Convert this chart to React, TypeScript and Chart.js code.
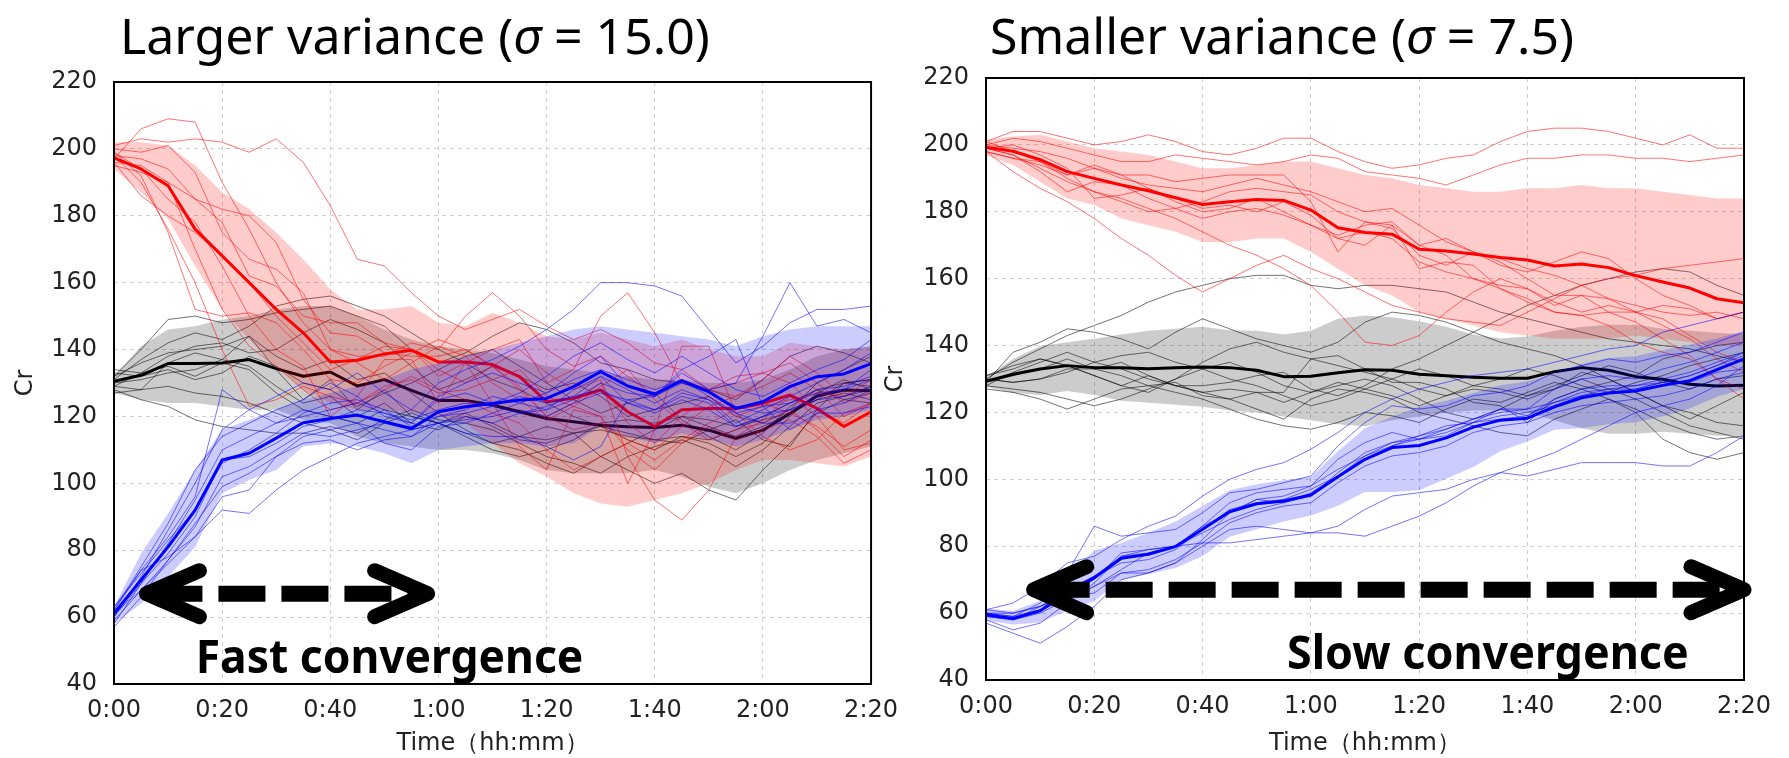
import React, { useEffect, useRef } from "react";
import { Chart, registerables } from "chart.js";

Chart.register(...registerables);
Chart.defaults.font.family = '"DejaVu Sans"';

const TIMES = [0, 5, 10, 15, 20, 25, 30, 35, 40, 45, 50, 55, 60, 65, 70, 75, 80, 85, 90, 95, 100, 105, 110, 115, 120, 125, 130, 135, 140];
const X_TICK_LABELS = ["0:00", "0:20", "0:40", "1:00", "1:20", "1:40", "2:00", "2:20"];

const L_TITLE_PARTS = ["Larger variance (", "σ", " = 15.0)"];
const R_TITLE_PARTS = ["Smaller variance (", "σ", " = 7.5)"];
const L_NOTE_TEXT = "Fast convergence";
const R_NOTE_TEXT = "Slow convergence";

// ---------- Left panel (sigma = 15.0) ----------
const L_RED_MEAN = [197.3, 194, 189, 176, 168, 160, 152, 145, 136.3, 136.8, 138.7, 139.8, 136.3, 136.3, 135.5, 131.9, 124.4, 125.4, 127.9, 121.4, 117, 122, 122.4, 122.4, 123.9, 126.4, 122.4, 117, 121.4];
const L_RED_UP = [202, 202, 201, 195, 187, 182, 175, 167, 158, 152, 152, 153, 148, 147, 151, 148, 144, 143, 145, 143, 141, 143, 140, 138, 138, 142, 141, 140, 141];
const L_RED_LO = [194, 187, 179, 165, 152, 143, 135, 128, 124, 122, 122, 121, 120, 118, 112, 106, 102, 97, 94, 93, 95, 97, 100, 104, 107, 107, 106, 105, 108];
const L_RED_RUNS = [
  [201, 203, 202, 203, 202, 199, 203, 196, 183, 167, 165, 157, 150, 146, 149, 152, 147, 143, 146, 142, 136, 134, 128, 126, 131, 138, 133, 126, 131],
  [197, 206, 209, 208, 190, 176, 160, 148, 140, 136, 131, 136, 141, 138, 130, 125, 119, 123, 129, 134, 125, 118, 113, 116, 118, 122, 116, 108, 113],
  [199, 192, 175, 152, 150, 151, 148, 140, 131, 130, 135, 139, 143, 140, 135, 129, 120, 116, 118, 113, 110, 117, 123, 126, 129, 133, 128, 120, 124],
  [198, 190, 176, 160, 140, 123, 125, 129, 126, 124, 128, 132, 128, 125, 121, 118, 110, 104, 108, 112, 107, 113, 118, 122, 124, 121, 117, 111, 116],
  [196, 195, 190, 185, 178, 162, 159, 150, 148, 148, 142, 140, 134, 130, 135, 140, 133, 128, 131, 108, 95, 89, 98, 114, 119, 126, 120, 110, 112],
  [200, 199, 201, 193, 175, 167, 164, 157, 140, 138, 138, 142, 140, 150, 157, 150, 140, 135, 138, 132, 126, 131, 128, 130, 133, 136, 130, 124, 127],
  [195, 193, 190, 170, 152, 141, 135, 128, 122, 124, 129, 131, 127, 128, 131, 134, 126, 123, 120, 110, 104, 112, 117, 113, 116, 119, 114, 106, 110],
  [198, 197, 194, 185, 182, 180, 172, 155, 145, 144, 139, 138, 138, 140, 135, 128, 120, 124, 130, 118, 112, 120, 126, 120, 123, 125, 127, 126, 129],
  [196, 186, 180, 175, 168, 160, 150, 142, 134, 137, 141, 140, 132, 136, 140, 143, 130, 134, 150, 157, 145, 130, 128, 132, 133, 130, 122, 118, 124],
  [199, 194, 185, 178, 165, 150, 140, 135, 120, 126, 137, 137, 124, 136, 124, 111, 104, 122, 120, 100, 116, 141, 141, 121, 114, 110, 113, 121, 124],
];

const L_BLK_MEAN = [130.5, 132.3, 135.8, 135.8, 136, 137, 134.3, 132, 133.3, 129.1, 131, 127.8, 124.8, 124.8, 123.4, 121.4, 119.4, 118.4, 117.4, 116.9, 116.7, 117.4, 115.9, 113.4, 115.9, 120.9, 126.1, 127.9, 127.7];
const L_BLK_UP = [132, 141, 146, 147, 149, 150, 152, 153, 153, 150, 146, 143, 141, 140, 139, 137, 135, 134, 133, 132, 131, 131, 130, 130, 131, 134, 138, 140, 141];
const L_BLK_LO = [127, 125, 124, 124, 123, 122, 122, 119, 118, 114, 112, 111, 110, 110, 109, 107, 104, 103, 103, 103, 104, 102, 99, 97, 100, 104, 107, 109, 111];
const L_BLK_RUNS = [
  [132, 140, 149, 150, 148, 149, 151, 152, 153, 150, 147, 140, 136, 139, 144, 148, 146, 142, 136, 134, 131, 130, 128, 125, 131, 138, 141, 139, 136],
  [131, 137, 142, 145, 143, 147, 153, 155, 156, 153, 150, 145, 140, 136, 131, 128, 124, 120, 117, 115, 113, 114, 112, 108, 112, 120, 127, 131, 128],
  [129, 133, 138, 141, 142, 139, 140, 145, 149, 146, 142, 135, 128, 131, 135, 132, 128, 130, 126, 120, 122, 124, 126, 120, 118, 122, 130, 134, 138],
  [133, 132, 134, 131, 133, 138, 135, 130, 128, 123, 127, 130, 134, 138, 140, 135, 130, 125, 121, 124, 127, 119, 114, 110, 115, 123, 128, 130, 129],
  [127, 128, 129, 127, 126, 124, 121, 118, 116, 113, 118, 121, 118, 115, 112, 114, 117, 115, 108, 104, 100, 103, 98, 95, 104, 112, 121, 125, 124],
  [128, 125, 123, 119, 117, 116, 115, 115, 117, 115, 119, 122, 119, 118, 116, 112, 108, 106, 103, 108, 111, 113, 110, 105, 110, 117, 124, 126, 128],
  [132, 136, 139, 140, 141, 144, 138, 134, 137, 131, 133, 127, 121, 116, 112, 110, 106, 103, 108, 112, 116, 120, 119, 117, 119, 121, 125, 130, 131],
  [130, 131, 133, 134, 137, 135, 129, 124, 126, 120, 124, 118, 116, 120, 118, 114, 113, 115, 117, 113, 110, 114, 113, 116, 120, 124, 128, 125, 127],
  [134, 133, 135, 132, 136, 134, 127, 122, 120, 118, 122, 120, 118, 114, 110, 108, 110, 113, 118, 119, 118, 120, 117, 114, 117, 121, 125, 127, 125],
  [129, 128, 136, 139, 137, 144, 134, 125, 131, 122, 128, 120, 118, 121, 117, 113, 112, 115, 116, 114, 113, 112, 116, 119, 113, 111, 122, 130, 131],
];

const L_BLU_MEAN = [61.1, 71.1, 81, 92, 107, 109, 113.5, 118.1, 119.4, 120.4, 118.4, 116.4, 121.4, 122.9, 123.9, 124.9, 125.4, 128.9, 133.4, 129.1, 126.7, 130.7, 127.4, 122.4, 124.4, 128.9, 131.9, 132.7, 135.8];
const L_BLU_UP = [63, 79, 91, 104, 116, 119, 122, 125, 127, 129, 131, 134, 136, 138, 140, 142, 144, 146, 147, 146, 145, 144, 143, 141, 144, 146, 147, 147, 147];
const L_BLU_LO = [58, 64, 72, 81, 97, 101, 104, 111, 112, 111, 109, 106, 110, 111, 112, 112, 111, 112, 117, 114, 112, 115, 113, 111, 113, 116, 119, 120, 122];
const L_BLU_RUNS = [
  [60, 72, 86, 100, 116, 122, 126, 130, 128, 133, 127, 122, 130, 134, 137, 141, 146, 152, 160, 160, 159, 156, 146, 136, 141, 148, 152, 152, 153],
  [62, 75, 88, 104, 114, 118, 122, 125, 130, 126, 120, 118, 126, 130, 133, 130, 127, 133, 138, 129, 126, 133, 128, 130, 144, 160, 147, 149, 145],
  [58, 70, 82, 95, 110, 114, 118, 120, 122, 124, 121, 118, 125, 127, 124, 127, 132, 138, 142, 137, 133, 138, 133, 128, 126, 130, 134, 137, 143],
  [63, 73, 83, 92, 106, 110, 115, 121, 124, 125, 122, 117, 120, 122, 126, 124, 122, 128, 132, 128, 124, 128, 125, 118, 122, 126, 130, 134, 139],
  [61, 68, 77, 88, 99, 103, 108, 114, 116, 118, 116, 114, 120, 121, 123, 126, 124, 126, 128, 124, 122, 126, 124, 117, 120, 124, 127, 128, 131],
  [60, 70, 79, 90, 107, 108, 112, 117, 119, 122, 121, 119, 122, 124, 123, 121, 122, 125, 130, 127, 126, 130, 127, 123, 121, 122, 126, 128, 134],
  [57, 66, 77, 87, 102, 105, 110, 115, 114, 116, 118, 116, 118, 119, 120, 122, 120, 124, 127, 125, 122, 127, 125, 121, 118, 118, 122, 124, 128],
  [63, 74, 84, 96, 128, 122, 118, 122, 120, 118, 112, 110, 117, 118, 121, 124, 127, 131, 134, 131, 128, 131, 126, 121, 123, 124, 128, 129, 132],
  [59, 68, 76, 84, 92, 91, 98, 104, 108, 112, 114, 116, 118, 120, 118, 121, 123, 126, 132, 124, 121, 125, 122, 117, 120, 122, 125, 126, 129],
  [62, 74, 78, 84, 96, 98, 108, 112, 113, 110, 113, 114, 118, 115, 114, 114, 111, 107, 111, 125, 126, 134, 138, 143, 123, 116, 121, 121, 123],
];

// ---------- Right panel (sigma = 7.5) ----------
const R_RED_MEAN = [199.3, 198.1, 195.6, 192, 190, 188, 186.3, 184.2, 182.2, 183, 183.7, 183.4, 180.5, 175.2, 173.8, 173.3, 168.8, 168.3, 167.4, 166.3, 165.6, 163.8, 164.4, 163.3, 160.9, 159, 157.2, 154, 152.8];
const R_RED_UP = [201.5, 202.5, 203, 201, 199, 198, 197, 195, 193, 193, 194, 195, 195, 193, 191, 190, 188, 187, 186, 186, 187, 187, 188, 187, 187, 186, 185, 184, 184];
const R_RED_LO = [197, 194, 189, 184, 182, 178, 176, 174, 171, 171, 172, 172, 168, 163, 158, 155, 150, 148, 146, 144, 143, 142, 142, 142, 143, 142, 141, 140, 140];
const R_RED_RUNS = [
  [201, 204, 204, 202, 200, 201, 203, 201, 198, 197, 199, 202, 202, 198, 195, 193, 194, 196, 197, 201, 204, 205, 205, 204, 202, 200, 203, 199, 199],
  [200, 202, 201, 199, 197, 195, 195, 197, 196, 195, 194, 195, 197, 196, 192, 191, 190, 188, 191, 194, 196, 196, 197, 197, 196, 196, 195, 196, 197],
  [199, 197, 193, 189, 186, 184, 181, 178, 174, 170, 167, 163, 158, 150, 141, 140, 143, 150, 156, 160, 157, 152, 155, 154, 152, 150, 149, 150, 148],
  [198, 192, 187, 183, 178, 172, 167, 161, 156, 160, 164, 167, 163, 160, 156, 152, 150, 148, 147, 146, 150, 154, 158, 160, 161, 163, 164, 165, 166],
  [200, 199, 198, 196, 193, 190, 188, 187, 186, 188, 190, 188, 186, 183, 180, 181, 176, 171, 168, 164, 162, 165, 168, 166, 160, 155, 152, 148, 150],
  [199, 200, 197, 193, 184, 185, 187, 184, 181, 182, 180, 183, 179, 172, 170, 176, 170, 167, 160, 157, 153, 150, 149, 146, 141, 138, 136, 130, 127],
  [198, 196, 194, 191, 193, 191, 187, 183, 180, 181, 184, 180, 176, 172, 174, 172, 165, 162, 160, 158, 157, 153, 150, 152, 150, 148, 143, 138, 135],
  [201, 198, 195, 190, 186, 183, 180, 181, 183, 186, 187, 186, 185, 180, 177, 175, 167, 164, 168, 165, 160, 155, 155, 150, 147, 142, 137, 130, 124],
  [199, 197, 192, 186, 189, 188, 184, 181, 178, 180, 181, 179, 176, 173, 176, 177, 170, 172, 168, 166, 163, 161, 158, 154, 150, 146, 142, 136, 132],
  [198, 196, 195, 191, 194, 191, 191, 189, 190, 191, 191, 191, 183, 168, 177, 176, 163, 165, 164, 157, 154, 150, 149, 150, 150, 152, 151, 148, 150],
];

const R_BLK_MEAN = [129.3, 131.4, 133, 134, 133.4, 133.4, 133.1, 133.4, 133.6, 133.4, 132.6, 130.7, 130.8, 131.9, 132.8, 132.6, 131.4, 131, 130.5, 130.2, 130.2, 132.2, 133.4, 132.6, 130.7, 129.9, 128.4, 127.9, 128.1];
const R_BLK_UP = [130.5, 136, 139.8, 141, 142, 143.3, 144.4, 145, 145.6, 144.6, 144.4, 143.3, 144.4, 148, 149, 148.5, 147.3, 145.6, 143.3, 142.1, 142.7, 144.4, 145.6, 146.2, 146.2, 145, 144.4, 143.8, 143.3];
const R_BLK_LO = [127.6, 125.8, 125.2, 126.4, 125.2, 123.5, 122.9, 122.3, 121.7, 120.6, 120, 118.8, 117.7, 116.5, 115.9, 117.7, 118.8, 120, 120.6, 120.6, 120, 117.7, 115.3, 113.6, 113.6, 114.2, 113.6, 113, 113];
const R_BLK_RUNS = [
  [130, 135, 139, 143, 146, 149, 153, 156, 158, 160, 161, 161, 158, 157, 158, 158, 157, 156, 153, 150, 148, 146, 144, 142, 141, 140, 139, 137, 135],
  [129, 138, 141, 145, 144, 142, 139, 144, 148, 145, 142, 140, 138, 141, 147, 150, 149, 147, 144, 141, 139, 137, 134, 130, 126, 122, 120, 117, 116],
  [128, 132, 135, 138, 135, 133, 130, 128, 128, 129, 131, 132, 127, 125, 128, 133, 136, 140, 144, 148, 152, 155, 158, 160, 162, 163, 162, 158, 155],
  [131, 134, 136, 134, 131, 128, 126, 130, 135, 139, 141, 138, 136, 134, 132, 130, 133, 131, 128, 130, 133, 131, 128, 126, 129, 131, 134, 136, 138],
  [130, 129, 130, 132, 135, 137, 138, 135, 133, 130, 128, 125, 122, 124, 127, 130, 127, 125, 128, 127, 125, 128, 131, 134, 132, 129, 127, 130, 131],
  [128, 127, 126, 124, 122, 124, 127, 130, 133, 135, 132, 128, 126, 129, 127, 125, 122, 125, 127, 126, 124, 127, 132, 130, 126, 122, 118, 122, 126],
  [129, 131, 133, 136, 133, 131, 128, 126, 124, 121, 118, 116, 115, 117, 120, 119, 117, 121, 124, 123, 126, 129, 127, 124, 121, 117, 114, 112, 113],
  [127, 126, 124, 121, 124, 127, 128, 129, 125, 124, 126, 123, 126, 128, 130, 128, 124, 120, 118, 121, 125, 127, 130, 127, 124, 120, 116, 114, 112],
  [131, 133, 136, 134, 131, 128, 131, 128, 126, 124, 121, 118, 124, 127, 126, 124, 120, 118, 116, 114, 113, 118, 121, 124, 120, 112, 108, 106, 108],
  [130, 129, 130, 133, 133, 135, 131, 128, 126, 127, 126, 126, 136, 137, 133, 129, 129, 127, 123, 122, 117, 124, 127, 129, 131, 136, 138, 140, 141],
];

const R_BLU_MEAN = [59.5, 58.4, 60.7, 65.9, 70.6, 76.4, 77.6, 79.9, 85.1, 90.3, 92.7, 93.5, 95.3, 100.8, 106, 109.5, 110.1, 112.4, 115.6, 117.7, 118.3, 121.7, 124.4, 125.8, 126.4, 128.1, 129.5, 132.8, 136];
const R_BLU_UP = [61.3, 60.7, 63.6, 71, 78.7, 81, 84, 87.4, 92, 96.7, 98.5, 99.7, 100.8, 108.4, 115.3, 118.8, 121.7, 123.5, 125.8, 128.1, 129.3, 131.6, 134.5, 136.3, 136.9, 138.6, 140.3, 142.1, 144.4];
const R_BLU_LO = [57.8, 56.6, 57.2, 60.7, 63.6, 70, 71.7, 73.5, 77, 82.8, 85.1, 87.4, 89.2, 92.1, 96.2, 96.2, 96.7, 100.2, 103.7, 108.4, 111.3, 114.8, 115.3, 116.5, 117.1, 118.8, 121.2, 124.7, 127];
const R_BLU_RUNS = [
  [61, 63, 68, 75, 77, 82, 86, 89, 95, 100, 103, 105, 109, 114, 120, 124, 127, 129, 131, 132, 133, 135, 137, 139, 140, 144, 146, 148, 150],
  [60, 59, 63, 72, 86, 83, 84, 85, 90, 96, 97, 99, 101, 110, 117, 122, 121, 122, 125, 126, 128, 132, 134, 136, 135, 137, 138, 141, 144],
  [58, 55, 57, 63, 69, 77, 79, 80, 86, 93, 96, 97, 98, 106, 111, 114, 112, 115, 118, 121, 121, 127, 130, 131, 130, 133, 135, 138, 141],
  [59, 58, 60, 64, 68, 73, 78, 80, 81, 81, 82, 83, 84, 84, 83, 86, 89, 93, 98, 102, 105, 108, 112, 116, 120, 122, 124, 128, 134],
  [57, 54, 51, 56, 62, 70, 72, 75, 82, 90, 94, 93, 95, 102, 108, 111, 113, 116, 117, 119, 120, 122, 125, 127, 128, 130, 132, 135, 138],
  [61, 60, 62, 67, 71, 75, 76, 79, 85, 91, 93, 94, 97, 101, 107, 110, 112, 113, 117, 118, 119, 123, 126, 127, 127, 129, 131, 134, 137],
  [60, 58, 62, 66, 70, 78, 79, 80, 86, 90, 94, 95, 98, 103, 107, 111, 112, 114, 117, 121, 119, 124, 127, 128, 128, 129, 131, 134, 138],
  [59, 58, 61, 67, 71, 77, 78, 80, 84, 88, 91, 93, 96, 101, 106, 110, 113, 115, 118, 120, 121, 123, 125, 126, 127, 129, 129, 132, 133],
  [60, 59, 61, 64, 68, 72, 73, 76, 81, 87, 90, 92, 93, 99, 104, 107, 108, 110, 114, 116, 117, 120, 122, 123, 124, 125, 127, 130, 132],
  [60, 60, 62, 65, 66, 72, 72, 75, 80, 85, 86, 85, 84, 86, 91, 95, 96, 97, 100, 102, 101, 103, 105, 105, 105, 104, 104, 108, 113],
];

// ---------- styling ----------
const RED = { line: "#ff0000", thin: "rgba(255,0,0,0.55)", band: "rgba(255,0,0,0.2)" };
const GRAY = { line: "#000000", thin: "rgba(0,0,0,0.55)", band: "rgba(0,0,0,0.2)" };
const BLUE = { line: "#0000ff", thin: "rgba(0,0,255,0.55)", band: "rgba(0,0,255,0.2)" };

type Group = { runs: number[][]; mean: number[]; up: number[]; lo: number[]; line: string; thin: string; band: string };

function pts(arr: number[]) {
  return arr.map((v, i) => ({ x: TIMES[i], y: v }));
}

function buildDatasets(groups: Group[]) {
  const ds: any[] = [];
  let order = 1000;
  for (const g of groups) {
    for (const r of g.runs) {
      ds.push({ data: pts(r), borderColor: g.thin, borderWidth: 1, pointRadius: 0, fill: false, order: order-- });
    }
    ds.push({ data: pts(g.mean), borderColor: g.line, borderWidth: 3, borderJoinStyle: "round", pointRadius: 0, fill: false, order: order-- });
    ds.push({ data: pts(g.up), borderColor: "rgba(0,0,0,0)", borderWidth: 0, backgroundColor: g.band, pointRadius: 0, fill: "+1", order: order-- });
    ds.push({ data: pts(g.lo), borderColor: "rgba(0,0,0,0)", borderWidth: 0, pointRadius: 0, fill: false, order: order-- });
  }
  return ds;
}

const overlayPlugin = {
  id: "overlay",
  afterDraw(chart: any, _args: any, opts: any) {
    const { ctx, chartArea: ca } = chart;
    const xs = chart.scales.x;
    const ys = chart.scales.y;
    ctx.save();
    // frame
    ctx.strokeStyle = "#000";
    ctx.lineWidth = 2;
    ctx.setLineDash([]);
    ctx.strokeRect(ca.left, ca.top, ca.right - ca.left, ca.bottom - ca.top);

    // dashed double arrow
    const a = opts.arrow;
    const xa = xs.getPixelForValue(a.from);
    const xb = xs.getPixelForValue(a.to);
    const ya = ys.getPixelForValue(a.y);
    ctx.strokeStyle = "#000";
    ctx.lineWidth = 16;
    ctx.lineCap = "butt";
    ctx.setLineDash([47, 16]);
    ctx.beginPath();
    ctx.moveTo(xa + 9, ya);
    ctx.lineTo(xb - 4, ya);
    ctx.stroke();
    ctx.setLineDash([]);
    ctx.lineWidth = 15;
    ctx.lineCap = "round";
    ctx.lineJoin = "round";
    const chev = (ax: number, dir: number) => {
      ctx.beginPath();
      ctx.moveTo(ax - dir * 53, ya - 23);
      ctx.lineTo(ax, ya);
      ctx.lineTo(ax - dir * 53, ya + 23);
      ctx.stroke();
    };
    chev(xa, -1);
    chev(xb, 1);

    // bold note
    const n = opts.note;
    ctx.font = 'bold 46px "Noto Sans"';
    ctx.fillStyle = "#000";
    ctx.textBaseline = "alphabetic";
    ctx.textAlign = "left";
    const w = ctx.measureText(n.text).width;
    const x1 = xs.getPixelForValue(n.from);
    const x2 = xs.getPixelForValue(n.to);
    ctx.save();
    ctx.translate(x1, ys.getPixelForValue(n.y));
    ctx.scale((x2 - x1) / w, 1);
    ctx.fillText(n.text, 0, 0);
    ctx.restore();

    // title
    const t = opts.title;
    let tx = t.x;
    ctx.fillStyle = "#000";
    t.parts.forEach((p: string, i: number) => {
      ctx.font = (i === 1 ? "italic " : "") + '50px "Noto Sans"';
      ctx.fillText(p, tx, t.baseline);
      tx += ctx.measureText(p).width;
    });
    ctx.restore();
  },
};

type Panel = {
  padTop: number;
  padRight: number;
  axisW: number;
  axisH: number;
  crPad: number;
  title: { parts: string[]; x: number; baseline: number };
  arrow: { from: number; to: number; y: number };
  note: { text: string; from: number; to: number; y: number };
  groups: Group[];
};

const LEFT: Panel = {
  padTop: 82,
  padRight: 38,
  axisW: 114,
  axisH: 74,
  crPad: 11,
  title: { parts: L_TITLE_PARTS, x: 120, baseline: 54 },
  arrow: { from: 6, to: 58, y: 67 },
  note: { text: L_NOTE_TEXT, from: 15.1, to: 86.8, y: 43.3 },
  groups: [
    { runs: L_BLK_RUNS, mean: L_BLK_MEAN, up: L_BLK_UP, lo: L_BLK_LO, ...GRAY },
    { runs: L_RED_RUNS, mean: L_RED_MEAN, up: L_RED_UP, lo: L_RED_LO, ...RED },
    { runs: L_BLU_RUNS, mean: L_BLU_MEAN, up: L_BLU_UP, lo: L_BLU_LO, ...BLUE },
  ],
};

const RIGHT: Panel = {
  padTop: 78,
  padRight: 45,
  axisW: 121,
  axisH: 78,
  crPad: 16.6,
  title: { parts: R_TITLE_PARTS, x: 125, baseline: 54 },
  arrow: { from: 8.8, to: 140, y: 67 },
  note: { text: R_NOTE_TEXT, from: 55.6, to: 129.8, y: 43.3 },
  groups: [
    { runs: R_BLK_RUNS, mean: R_BLK_MEAN, up: R_BLK_UP, lo: R_BLK_LO, ...GRAY },
    { runs: R_RED_RUNS, mean: R_RED_MEAN, up: R_RED_UP, lo: R_RED_LO, ...RED },
    { runs: R_BLU_RUNS, mean: R_BLU_MEAN, up: R_BLU_UP, lo: R_BLU_LO, ...BLUE },
  ],
};

const TICK_FONT = { family: '"DejaVu Sans"', size: 24 };

function makeConfig(p: Panel): any {
  return {
    type: "line",
    data: { datasets: buildDatasets(p.groups) },
    options: {
      animation: false,
      responsive: false,
      maintainAspectRatio: false,
      events: [],
      layout: { padding: { top: p.padTop, right: p.padRight, bottom: 0, left: 0 } },
      elements: { point: { radius: 0 }, line: { tension: 0 } },
      plugins: {
        legend: { display: false },
        tooltip: { enabled: false },
        title: { display: false },
        overlay: { arrow: p.arrow, note: p.note, title: p.title },
      },
      scales: {
        x: {
          type: "linear",
          min: 0,
          max: 140,
          ticks: {
            stepSize: 20,
            padding: 12,
            color: "#222",
            font: TICK_FONT,
            maxRotation: 0,
            autoSkip: false,
            callback: (v: number) => X_TICK_LABELS[Math.round(v / 20)] ?? "",
          },
          grid: { color: "#cfcfcf", lineWidth: 1, drawTicks: false },
          border: { display: false, dash: [4, 4] },
          title: {
            display: true,
            text: "Time（hh:mm）",
            color: "#222",
            font: { family: '"DejaVu Sans"', size: 24 },
            padding: { top: 0, bottom: 0 },
          },
          afterFit: (s: any) => {
            s.height = p.axisH;
          },
        },
        y: {
          type: "linear",
          min: 40,
          max: 220,
          ticks: { stepSize: 20, padding: 17, color: "#222", font: TICK_FONT },
          grid: { color: "#cfcfcf", lineWidth: 1, drawTicks: false },
          border: { display: false, dash: [4, 4] },
          title: {
            display: true,
            text: "Cr",
            color: "#222",
            font: { family: '"DejaVu Sans"', size: 24 },
            padding: { top: p.crPad, bottom: 0 },
          },
          afterFit: (s: any) => {
            s.width = p.axisW;
          },
        },
      },
    },
    plugins: [overlayPlugin],
  };
}

export default function App() {
  const leftRef = useRef<HTMLCanvasElement>(null);
  const rightRef = useRef<HTMLCanvasElement>(null);

  useEffect(() => {
    const c1 = new Chart(leftRef.current as HTMLCanvasElement, makeConfig(LEFT));
    const c2 = new Chart(rightRef.current as HTMLCanvasElement, makeConfig(RIGHT));
    return () => {
      c1.destroy();
      c2.destroy();
    };
  }, []);

  return (
    <div style={{ position: "absolute", left: 0, top: 0, width: 1789, height: 758, background: "#fff", overflow: "hidden" }}>
      <canvas ref={leftRef} width={910} height={758} style={{ position: "absolute", left: 0, top: 0, width: 910, height: 758 }} />
      <canvas ref={rightRef} width={924} height={758} style={{ position: "absolute", left: 865, top: 0, width: 924, height: 758 }} />
    </div>
  );
}
